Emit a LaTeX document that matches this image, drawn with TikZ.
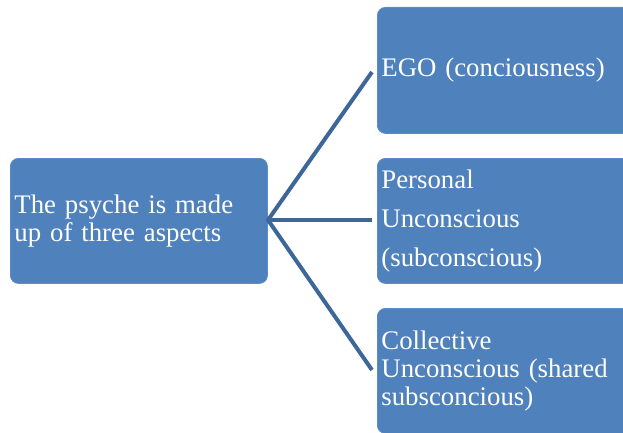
\documentclass[tikz,border=0pt]{standalone}
\usepackage{fontspec}
\setmainfont{Liberation Serif}
\definecolor{boxblue}{HTML}{4F81BD}
\definecolor{boxedge}{HTML}{5B8CC6}
\definecolor{linkblue}{HTML}{3D6699}
\begin{document}
\begin{tikzpicture}[x=1pt,y=1pt,
  blk/.style={draw=boxedge, line width=0.8pt, fill=boxblue, rounded corners=8pt,
    text=white, align=left, anchor=north west, inner xsep=4pt, inner ysep=0pt,
    font=\fontsize{26.8}{28}\selectfont},
  link/.style={draw=linkblue, line width=4pt}]
\useasboundingbox (0,0) rectangle (623,432);
\clip (0,0) rectangle (623,432);
\node[blk, minimum width=257pt, minimum height=125pt, text width=249pt] (root) at (10,274)
  {The psyche is made\\up of three aspects};
\node[blk, minimum width=263pt, minimum height=126pt, text width=255pt] (ego) at (377,425)
  {EGO (conciousness)};
\node[blk, minimum width=263pt, minimum height=125pt, text width=255pt,
  font=\fontsize{26.8}{39}\selectfont] (pers) at (377,274)
  {Personal\\Unconscious\\(subconscious)};
\node[blk, minimum width=263pt, minimum height=125pt, text width=255pt] (coll) at (377,124)
  {Collective\\Unconscious (shared\\subsconcious)};
\coordinate (hub) at (268,212);
\coordinate (e1) at (372,360);
\coordinate (e2) at (372,212);
\coordinate (e3) at (372,62);
\draw[link] (e1) -- (hub) -- (e3);
\draw[link] (hub) -- (e2);
\end{tikzpicture}
\end{document}
